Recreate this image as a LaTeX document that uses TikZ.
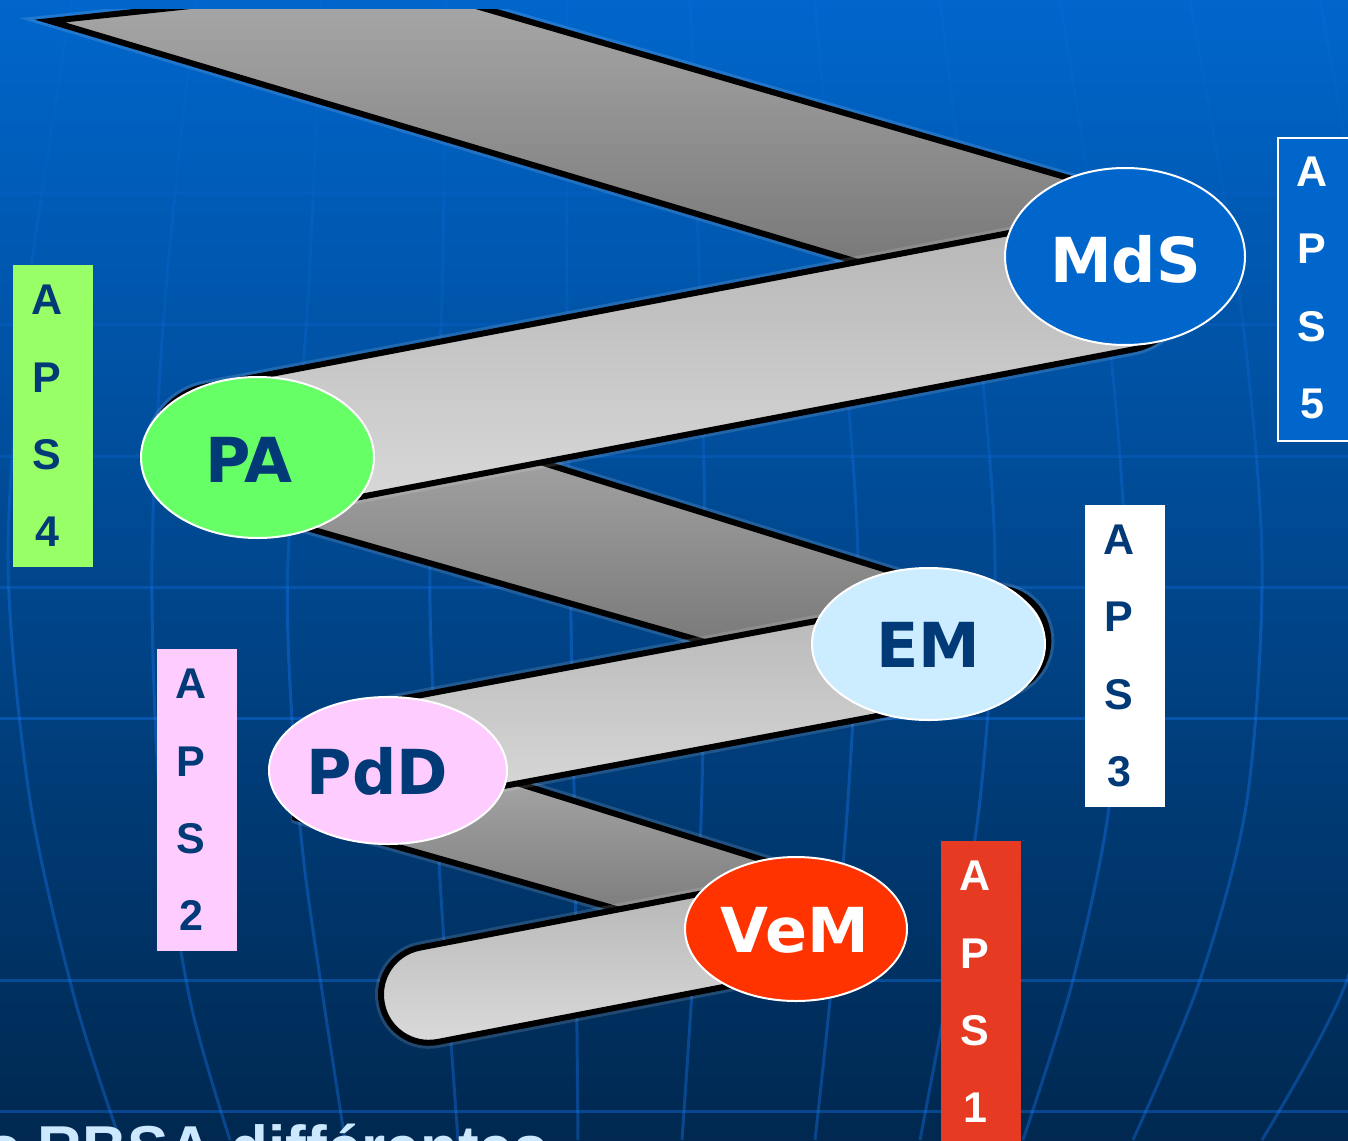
\documentclass[tikz,border=0pt]{standalone}
\usepackage{fontspec}
\setmainfont{DejaVu Sans}
\newfontfamily\lsans{Liberation Sans}
\usetikzlibrary{shapes.geometric}
\definecolor{bgtop}{HTML}{0066CC}
\definecolor{bgmid}{HTML}{004A96}
\definecolor{bgbot}{HTML}{002850}
\definecolor{gridc}{HTML}{1A7FFF}
\definecolor{navy}{HTML}{023A78}
\definecolor{dkA}{HTML}{A8A8A8}
\definecolor{dkB}{HTML}{767676}
\definecolor{ltA}{HTML}{B4B4B4}
\definecolor{ltB}{HTML}{DCDCDC}
\definecolor{mdsC}{HTML}{0066CC}
\definecolor{paC}{HTML}{66FF66}
\definecolor{emC}{HTML}{CCECFF}
\definecolor{pddC}{HTML}{FFCCFF}
\definecolor{vemC}{HTML}{FF3300}
\definecolor{apsfourC}{HTML}{99FF66}
\definecolor{apsoneC}{HTML}{E63A22}
\definecolor{botC}{HTML}{CCE8FF}
\newcommand\apsfont{\lsans\bfseries\fontsize{43}{77.3}\selectfont}
\newcommand\lblfont{\bfseries\fontsize{62}{62}\selectfont}
\tikzset{
  gridline/.style={draw=gridc, line width=3pt},
  glow/.style={draw=white, draw opacity=0.13, line width=12pt},
  darkseg/.style={draw=black, line width=6pt, line join=miter, top color=dkA, bottom color=dkB},
  lightseg/.style={rectangle, inner sep=0pt, outer sep=0pt, draw=black, line width=6pt, top color=ltA, bottom color=ltB},
  lightglow/.style={rectangle, inner sep=0pt, outer sep=0pt, glow},
  ell/.style={ellipse, inner sep=0pt, draw=white, line width=2pt},
  lbl/.style={inner sep=0pt, font=\lblfont},
  apsbox/.style={rectangle, anchor=north west, inner sep=0pt, minimum width=80pt, minimum height=302pt},
  apstxt/.style={inner sep=0pt, align=center, font=\apsfont}
}
\newcommand\globegrid{%
  \foreach \yy in {193,324,456,587,718,980,1111} \draw[gridline] (0,\yy) -- (1348,\yy);
  \draw[gridline] plot[smooth] coordinates {(72,0) (27,300) (8,560) (30,800) (75,1000) (120,1140)};
  \draw[gridline] plot[smooth] coordinates {(196,0) (165,300) (152,560) (160,800) (190,1000) (230,1140)};
  \draw[gridline] plot[smooth] coordinates {(321,0) (308,300) (288,560) (292,720) (306,880) (345,1140)};
  \draw[gridline] plot[smooth] coordinates {(446,0) (442,300) (430,560) (434,720) (440,880) (458,1140)};
  \draw[gridline] plot[smooth] coordinates {(567,0) (567,300) (570,560) (575,850) (578,1140)};
  \draw[gridline] plot[smooth] coordinates {(690,0) (700,300) (705,560) (700,850) (682,1140)};
  \draw[gridline] plot[smooth] coordinates {(815,0) (840,300) (858,560) (848,800) (830,1000) (815,1140)};
  \draw[gridline] plot[smooth] coordinates {(940,0) (975,300) (995,560) (980,800) (950,980) (920,1140)};
  \draw[gridline] plot[smooth] coordinates {(1060,0) (1105,300) (1125,560) (1110,800) (1073,980) (1023,1140)};
  \draw[gridline] plot[smooth] coordinates {(1190,0) (1240,300) (1262,560) (1247,800) (1200,980) (1133,1140)};
  \draw[gridline] plot[smooth] coordinates {(1320,0) (1370,300) (1390,560) (1380,800) (1347,980) (1262,1140)};
}
\begin{document}
\begin{tikzpicture}[x=1pt,y=-1pt]
\useasboundingbox (0,0) rectangle (1348,1140);
\clip (0,0) rectangle (1348,1140);
% background
\shade[top color=bgtop, middle color=bgmid, bottom color=bgbot] (0,0) rectangle (1348,1140);
% globe grid, fading out towards the top
\foreach \ya/\yb/\op in {0/200/0.08, 200/330/0.13, 330/460/0.19, 460/590/0.26, 590/1140/0.34} {
  \begin{scope}[draw opacity=\op]
    \clip (0,\ya) rectangle (1348,\yb);
    \globegrid
  \end{scope}
}
% dark (back) segments
\begin{scope}
\clip (0,10) rectangle (1348,1140);
\path[glow] (50,21) -- (340,-10) -- (438,-5) -- (1110,190) -- (1120,280) -- (900,274.5) -- cycle;
\path[darkseg] (50,21) -- (340,-10) -- (438,-5) -- (1110,190) -- (1120,280) -- (900,274.5) -- cycle;
\end{scope}
\path[glow] (420,424.6) -- (935,585) -- (935,650) -- (780,663.5) -- (270,517.4) -- cycle;
\path[darkseg] (420,424.6) -- (935,585) -- (935,650) -- (780,663.5) -- (270,517.4) -- cycle;
\path[glow, line join=bevel] (460,765.3) -- (800,871.5) -- (800,935) -- (700,932.7) -- (293,817) -- cycle;
\path[darkseg, line join=bevel] (460,765.3) -- (800,871.5) -- (800,935) -- (700,932.7) -- (293,817) -- cycle;
% light (front) segments
\node[lightglow, rounded corners=68.5pt, minimum width=1055.9pt, minimum height=137.6pt, rotate=10.81] (s2g) at (669,368) {};
\node[lightseg, rounded corners=68.5pt, minimum width=1055.9pt, minimum height=137.6pt, rotate=10.81] (s2) at (669,368) {};
\node[lightglow, rounded corners=52pt, minimum width=772pt, minimum height=104.6pt, rotate=10.62] (s4g) at (668,702) {};
\node[lightseg, rounded corners=52pt, minimum width=772pt, minimum height=104.6pt, rotate=10.62] (s4) at (668,702) {};
\node[lightglow, rounded corners=47.7pt, minimum width=433pt, minimum height=96pt, rotate=10.89] (s6g) at (594.5,962.9) {};
\node[lightseg, rounded corners=47.7pt, minimum width=433pt, minimum height=96pt, rotate=10.89] (s6) at (594.5,962.9) {};
% ellipses
\node[ell, fill=mdsC, minimum width=240pt, minimum height=177pt] (mds) at (1125,256.5) {};
\node[ell, fill=paC, minimum width=233pt, minimum height=161pt] (pa) at (257.5,457.5) {};
\node[ell, fill=emC, minimum width=233pt, minimum height=152pt] (em) at (928.5,644) {};
\node[ell, fill=pddC, minimum width=238pt, minimum height=147pt] (pdd) at (388,770.5) {};
\node[ell, fill=vemC, minimum width=222pt, minimum height=144pt] (vem) at (796,929) {};
\node[lbl, text=white] (mdsT) at (1125.5,259) {MdS};
\node[lbl, text=navy] (paT) at (249,460) {PA};
\node[lbl, text=navy] (emT) at (928.5,645) {EM};
\node[lbl, text=navy] (pddT) at (377.5,771) {PdD};
\node[lbl, text=white] (vemT) at (795,930) {VeM};
% APS boxes
\node[apsbox, fill=mdsC, draw=white, line width=2pt, minimum width=90pt, minimum height=303pt] (aps5) at (1277,137) {};
\node[apstxt, text=white] (aps5T) at (1312,288) {A\\P\\S\\5};
\node[apsbox, fill=apsfourC] (aps4) at (13,265) {};
\node[apstxt, text=navy] (aps4T) at (47,416) {A\\P\\S\\4};
\node[apsbox, fill=white] (aps3) at (1085,505) {};
\node[apstxt, text=navy] (aps3T) at (1119,656) {A\\P\\S\\3};
\node[apsbox, fill=pddC] (aps2) at (157,649) {};
\node[apstxt, text=navy] (aps2T) at (191,800) {A\\P\\S\\2};
\node[apsbox, fill=apsoneC, minimum height=330pt] (aps1) at (941,841) {};
\node[apstxt, text=white] (aps1T) at (975,992) {A\\P\\S\\1};
% bottom text (cut off by the edge, as in the reference)
\node[anchor=base west, inner sep=0pt, text=botC, font=\lsans\bfseries\fontsize{62}{62}\selectfont] (bot) at (-14,1169) {s RBSA différentes};
\end{tikzpicture}
\end{document}
